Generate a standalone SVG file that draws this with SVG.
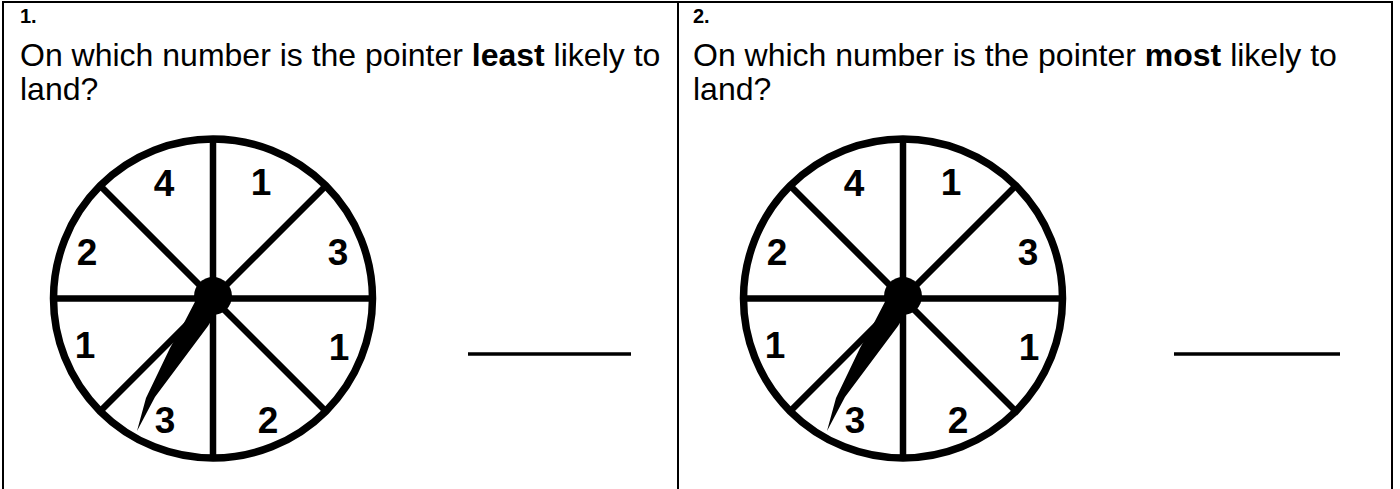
<svg xmlns="http://www.w3.org/2000/svg" width="1400" height="489" viewBox="0 0 1400 489">
<style>
.frame{stroke:#000;stroke-width:2;fill:none}
.ring{stroke:#000;stroke-width:7.5;fill:#fff}
.spoke{stroke:#000;stroke-width:6.5;fill:none}
.num{font-family:"Liberation Sans",Arial,sans-serif;font-weight:bold;font-size:37px;fill:#000;text-anchor:middle}
.q{font-family:"Liberation Sans",Arial,sans-serif;font-size:32px;fill:#000}
.qn{font-family:"Liberation Sans",Arial,sans-serif;font-size:20px;font-weight:bold;fill:#000}
.ans{stroke:#000;stroke-width:3.5}
</style>
<rect width="1400" height="489" fill="#fff"/>
<g id="table">
<line class="frame" x1="2" y1="2" x2="1393" y2="2"/>
<line class="frame" x1="3" y1="1" x2="3" y2="489"/>
<line class="frame" x1="678" y1="1" x2="678" y2="489"/>
<line class="frame" x1="1392" y1="1" x2="1392" y2="489"/>
</g>
<g id="question1">
<text class="qn" x="20" y="23">1.</text>
<text class="q" x="20" y="66">On which number is the pointer <tspan font-weight="bold">least</tspan> likely to</text>
<text class="q" x="20" y="100">land?</text>
</g>
<g id="question2">
<text class="qn" x="693" y="23">2.</text>
<text class="q" x="693" y="66">On which number is the pointer <tspan font-weight="bold">most</tspan> likely to</text>
<text class="q" x="693" y="100">land?</text>
</g>
<g id="spinner1">
<circle class="ring" cx="213" cy="298.5" r="159.5"/>
<line class="spoke" x1="53.5" y1="298.5" x2="372.5" y2="298.5"/>
<line class="spoke" x1="213" y1="139" x2="213" y2="458"/>
<line class="spoke" x1="100.2" y1="185.7" x2="325.8" y2="411.3"/>
<line class="spoke" x1="325.8" y1="185.7" x2="100.2" y2="411.3"/>
<circle cx="213" cy="296" r="19"/>
<polygon points="198,296 185,321 170,348 146,398 137,431 155,397 208,326 224,300"/>
<text class="num" x="164" y="196">4</text>
<text class="num" x="261" y="195">1</text>
<text class="num" x="87" y="265">2</text>
<text class="num" x="338" y="265">3</text>
<text class="num" x="85" y="358">1</text>
<text class="num" x="339" y="360">1</text>
<text class="num" x="165" y="433">3</text>
<text class="num" x="268" y="433">2</text>
</g>
<g id="spinner2" transform="translate(690,0)">
<circle class="ring" cx="213" cy="298.5" r="159.5"/>
<line class="spoke" x1="53.5" y1="298.5" x2="372.5" y2="298.5"/>
<line class="spoke" x1="213" y1="139" x2="213" y2="458"/>
<line class="spoke" x1="100.2" y1="185.7" x2="325.8" y2="411.3"/>
<line class="spoke" x1="325.8" y1="185.7" x2="100.2" y2="411.3"/>
<circle cx="213" cy="296" r="19"/>
<polygon points="198,296 185,321 170,348 146,398 137,431 155,397 208,326 224,300"/>
<text class="num" x="164" y="196">4</text>
<text class="num" x="261" y="195">1</text>
<text class="num" x="87" y="265">2</text>
<text class="num" x="338" y="265">3</text>
<text class="num" x="85" y="358">1</text>
<text class="num" x="339" y="360">1</text>
<text class="num" x="165" y="433">3</text>
<text class="num" x="268" y="433">2</text>
</g>
<g id="answer1"><line class="ans" x1="468" y1="354" x2="631" y2="354"/></g>
<g id="answer2"><line class="ans" x1="1174" y1="354" x2="1340" y2="354"/></g>
</svg>
